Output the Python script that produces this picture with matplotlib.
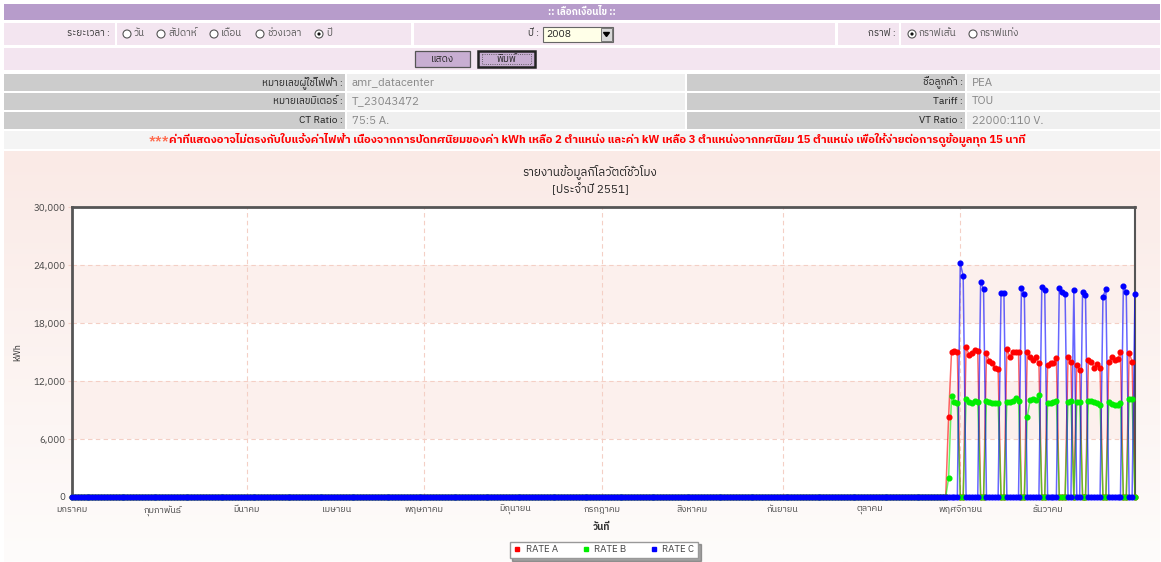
import numpy as np
import matplotlib as mpl
mpl.use('Agg')
import matplotlib.pyplot as plt
from matplotlib import font_manager
from matplotlib.ft2font import FT2Font
from matplotlib.patches import Rectangle, Circle
from matplotlib.lines import Line2D


## data: daily kWh for 2008 (day 0 = 1 Jan), meter starts reporting on 28 Oct
months = ['มกราคม', 'กุมภาพันธ์', 'มีนาคม', 'เมษายน', 'พฤษภาคม', 'มิถุนายน',
          'กรกฎาคม', 'สิงหาคม', 'กันยายน', 'ตุลาคม', 'พฤศจิกายน', 'ธันวาคม']
month_start = [0, 31, 60, 91, 121, 152, 182, 213, 244, 274, 305, 335]

# 28 Oct .. 31 Dec (65 days)
rate_a_tail = [8310, 14970, 15100, 14970, 0, 0,
               15550, 14690, 14860, 15210, 15140, 0, 0,
               14860, 14070, 13830, 13310, 13240, 0, 0,
               15280, 14520, 15040, 14970, 14970, 0, 0,
               15040, 14520, 14170, 14450, 13830, 0, 0,
               13660, 13830, 13830, 14350, 0, 0, 0,
               14520, 13930, 0, 13660, 13140, 0, 0,
               14170, 13930, 13380, 13760, 13310, 0, 0,
               13930, 14450, 14170, 14240, 14970, 0, 0,
               14930, 14000, 0]
rate_b_tail = [1970, 10480, 9860, 9690, 0, 0,
               10100, 9860, 9690, 9970, 9860, 0, 0,
               9970, 9800, 9760, 9690, 9760, 0, 0,
               9860, 9860, 9970, 10210, 9970, 0, 0,
               8310, 10030, 10100, 10030, 10550, 0, 0,
               9760, 9690, 9860, 9970, 0, 0, 0,
               9860, 9970, 0, 9860, 9800, 0, 0,
               9970, 9970, 9800, 9690, 9520, 0, 0,
               9860, 9620, 9520, 9520, 9760, 0, 0,
               10100, 10100, 0]
rate_c_tail = [0, 0, 0, 0, 24200, 22860,
               0, 0, 0, 0, 0, 22280, 21480,
               0, 0, 0, 0, 0, 21070, 21070,
               0, 0, 0, 0, 0, 21590, 21000,
               0, 0, 0, 0, 0, 21760, 21410,
               0, 0, 0, 0, 21590, 21240, 21000,
               0, 0, 21410, 0, 0, 21240, 20900,
               0, 0, 0, 0, 0, 20720, 21520,
               0, 0, 0, 0, 0, 21830, 21170,
               0, 0, 21000]
rate_a = [0] * 301 + rate_a_tail
rate_b = [0] * 301 + rate_b_tail
rate_c = [0] * 301 + rate_c_tail
days = np.arange(len(rate_a))

series = [('RATE A', rate_a, '#ff0000'),
          ('RATE B', rate_b, '#00ee00'),
          ('RATE C', rate_c, '#0000ff')]
yticks = [0, 6000, 12000, 18000, 24000, 30000]


## pick a family that has Thai glyphs
def thai_family():
    found = []
    for f in font_manager.fontManager.ttflist:
        try:
            if 0x0E01 in FT2Font(f.fname).get_charmap():
                found.append(f.name)
        except Exception:
            continue
    if not found:
        return []
    found.sort(key=lambda n: ('Sans' not in n, n))
    return [found[0]]

plt.rcParams['font.family'] = thai_family() + ['DejaVu Sans']

W, H = 1161, 562
fig = plt.figure(figsize=(W / 100, H / 100), dpi=100)

# page layer in pixel coordinates
page = fig.add_axes([0, 0, 1, 1])
page.axis('off')

def box(x0, y0, x1, y1, color, **kw):
    page.add_patch(Rectangle((x0, y0), x1 - x0, y1 - y0, facecolor=color,
                             edgecolor=kw.pop('edgecolor', 'none'), **kw))

def txt(x, y, s, **kw):
    kw.setdefault('fontsize', 7)
    kw.setdefault('va', 'center')
    return page.text(x, y, s, **kw)

def radio(x, y, on):
    page.add_patch(Circle((x, y), 4, facecolor='white', edgecolor='#555', lw=0.8))
    if on:
        page.add_patch(Circle((x, y), 1.6, facecolor='#111', edgecolor='none'))

# chart background gradient
top, bot = np.array([250, 234, 230]) / 255, np.array([254, 252, 251]) / 255
t = np.linspace(0, 1, 200)[:, None, None]
grad = top * (1 - t) + bot * t
page.imshow(grad, extent=[4, 1160, 562, 151], aspect='auto')

# header
box(4, 4, 1160, 20, '#b79ccb')
txt(582, 12, ':: เลือกเงื่อนไข ::', color='white', ha='center', fontweight='bold')

cell = '#f3e5f0'
box(4, 23, 115, 45, cell)
box(117, 23, 411, 45, cell)
box(414, 23, 835, 45, cell)
box(838, 23, 899, 45, cell)
box(901, 23, 1160, 45, cell)
txt(110, 34, 'ระยะเวลา :', ha='right', color='#333')
for x, lab, on in [(127, 'วัน', False), (161, 'สัปดาห์', False), (214, 'เดือน', False),
                   (260, 'ช่วงเวลา', False), (319, 'ปี', True)]:
    radio(x, 34, on)
    txt(x + 7, 34, lab, color='#555')
txt(539, 34, 'ปี :', ha='right', color='#333')
box(543, 27, 613, 42, '#ffffe8', edgecolor='#666', lw=0.8)
box(601, 28, 612, 41, '#d8d8d8', edgecolor='#666', lw=0.6)
page.fill([603.5, 609.5, 606.5], [32.5, 32.5, 36.5], color='black')
txt(546, 34.5, '2008', fontsize=7.5, color='#222')
txt(896, 34, 'กราฟ :', ha='right', color='#333')
radio(912, 34, True)
txt(919, 34, 'กราฟเส้น', color='#555')
radio(973, 34, False)
txt(980, 34, 'กราฟแท่ง', color='#555')

box(4, 48, 1160, 70, cell)
box(415, 51, 470, 67, '#c8aed2', edgecolor='#555', lw=0.9)
txt(442.5, 59, 'แสดง', ha='center', color='#222')
box(478, 51, 535, 67, '#c8aed2', edgecolor='#222', lw=1.8)
box(482, 54, 531, 64, 'none', edgecolor='#444', lw=0.6, linestyle=':')
txt(506.5, 59, 'พิมพ์', ha='center', color='#222')

# customer info rows
info = [('หมายเลขผู้ใช้ไฟฟ้า :', 'amr_datacenter', 'ชื่อลูกค้า :', 'PEA'),
        ('หมายเลขมิเตอร์ :', 'T_23043472', 'Tariff :', 'TOU'),
        ('CT Ratio :', '75:5 A.', 'VT Ratio :', '22000:110 V.')]
for i, (l1, v1, l2, v2) in enumerate(info):
    y0 = 74 + i * 19
    box(4, y0, 345, y0 + 17, '#cccccc')
    box(347, y0, 685, y0 + 17, '#efefef')
    box(687, y0, 965, y0 + 17, '#cccccc')
    box(967, y0, 1160, y0 + 17, '#efefef')
    yc = y0 + 8.5
    txt(343, yc, l1, ha='right', color='#222', fontsize=7.3)
    txt(352, yc, v1, color='#888', fontsize=8.3)
    txt(963, yc, l2, ha='right', color='#222', fontsize=7.3)
    txt(972, yc, v2, color='#888', fontsize=8.3)

box(4, 131, 1160, 149, '#f4f4f4')
warn = ('ค่าที่แสดงอาจไม่ตรงกับใบแจ้งค่าไฟฟ้า เนื่องจากการปัดทศนิยมของค่า kWh เหลือ 2 ตำแหน่ง '
        'และค่า kW เหลือ 3 ตำแหน่งจากทศนิยม 15 ตำแหน่ง เพื่อให้ง่ายต่อการดูข้อมูลทุก 15 นาที')
wt = txt(597, 140, warn, ha='center', color='#ff0000', fontweight='bold', fontsize=8.1)
page.annotate('***', xy=(0, 0.5), xycoords=wt, ha='right', va='center',
              fontsize=8.1, color='#ff6a4d', fontweight='bold')

# chart titles and axis captions
txt(590, 172, 'รายงานข้อมูลกิโลวัตต์ชั่วโมง', ha='center', fontsize=8.5, color='#222')
txt(590, 189, '[ประจำปี 2551]', ha='center', fontsize=8.5, color='#222')
txt(18, 352, 'kWh', ha='center', rotation=90, fontsize=6.5, color='#333')
txt(602, 527, 'วันที่', ha='center', fontsize=7, fontweight='bold', color='#333')

page.set_xlim(0, W)
page.set_ylim(H, 0)

# plot area
ax = fig.add_axes([72 / W, (H - 497) / H, 1063 / W, 290 / H])
ax.set_facecolor('white')
for lo in (6000, 18000):
    ax.axhspan(lo, lo + 6000, color='#fcf0ed', lw=0, zorder=0)
for y in yticks[1:-1]:
    ax.axhline(y, color='#f4cfc5', lw=0.8, ls=(0, (4, 3)), zorder=1)
for m in month_start[2::2]:
    ax.axvline(m, color='#f4cfc5', lw=0.8, ls=(0, (4, 3)), zorder=1)

for name, vals, c in series:
    ax.plot(days, vals, color=c, alpha=0.6, lw=1.1, zorder=3)
    ax.plot(days, vals, 'o', color=c, ms=3.4, mec=c, zorder=4, clip_on=False)

ax.set_xlim(0, 365)
ax.set_ylim(0, 30000)
ax.set_yticks(yticks)
ax.set_yticklabels([f'{v:,}' for v in yticks], fontsize=7, color='#444')
ax.set_xticks(month_start)
ax.set_xticklabels(months, fontsize=6.5, color='#444')
ax.tick_params(axis='y', length=3, color='#f4cfc5', pad=2)
ax.tick_params(axis='x', length=0, pad=6)
for s in ['left', 'top']:
    ax.spines[s].set_color('#555')
    ax.spines[s].set_linewidth(2)
ax.spines['right'].set_color('#555')
ax.spines['right'].set_linewidth(1.5)
ax.spines['bottom'].set_color('#555')

handles = [Line2D([], [], marker='s', ls='none', color=c, ms=3) for _, _, c in series]
fig.legend(handles, [n for n, _, _ in series], loc='center',
           bbox_to_anchor=(604 / W, 1 - 550 / H), ncol=3, fontsize=7,
           frameon=True, fancybox=False, shadow=True, edgecolor='#999',
           handlelength=0.8, handletextpad=0.5, columnspacing=2.4,
           borderpad=0.4, labelcolor='#444')

fig.savefig('out.png', dpi=100)
